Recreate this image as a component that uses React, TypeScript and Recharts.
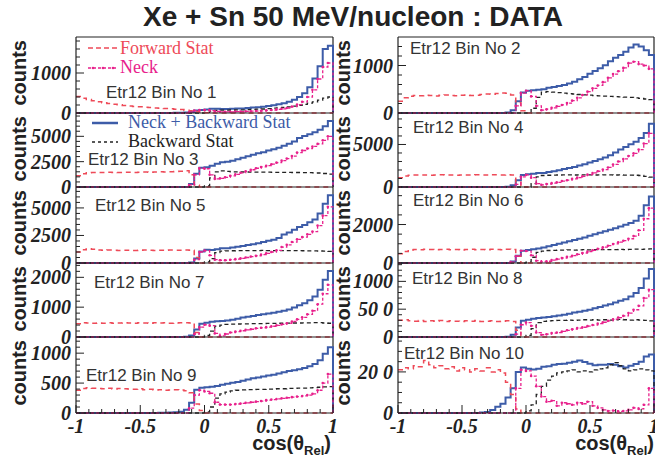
import React from 'react';
import { LineChart, Line, XAxis, YAxis, ReferenceLine } from 'recharts';

// bin low edges (50 bins of 0.04) plus the upper edge at 1
const EDGES = [
  -1, -0.96, -0.92, -0.88, -0.84, -0.8, -0.76, -0.72, -0.68, -0.64,
  -0.6, -0.56, -0.52, -0.48, -0.44, -0.4, -0.36, -0.32, -0.28, -0.24,
  -0.2, -0.16, -0.12, -0.08, -0.04, 0, 0.04, 0.08, 0.12, 0.16,
  0.2, 0.24, 0.28, 0.32, 0.36, 0.4, 0.44, 0.48, 0.52, 0.56,
  0.6, 0.64, 0.68, 0.72, 0.76, 0.8, 0.84, 0.88, 0.92, 0.96, 1,
];
const X_TICKS = [-1, -0.9, -0.8, -0.7, -0.6, -0.5, -0.4, -0.3, -0.2, -0.1, 0, 0.1, 0.2, 0.3, 0.4, 0.5, 0.6, 0.7, 0.8, 0.9, 1];

// ---- Etr12 bin 1
const P1_FWD = [
  410, 370, 335, 305, 280, 258, 238, 220, 205, 190,
  175, 165, 155, 146, 137, 128, 120, 112, 105, 96,
  85, 70, 55, 38, 20, 6, 0, 0, 0, 0,
  0, 0, 0, 0, 0, 0, 0, 0, 0, 0,
  0, 0, 0, 0, 0, 0, 0, 0, 0, 0,
];
const P1_NECK = [
  0, 0, 0, 0, 0, 0, 0, 0, 0, 0,
  0, 0, 0, 0, 0, 0, 0, 0, 0, 0,
  0, 0, 20, 60, 75, 75, 60, 40, 30, 30,
  30, 35, 35, 40, 45, 50, 55, 65, 75, 90,
  105, 125, 160, 210, 280, 400, 580, 850, 1150, 1250,
];
const P1_BACK = [
  0, 0, 0, 0, 0, 0, 0, 0, 0, 0,
  0, 0, 0, 0, 0, 0, 0, 0, 0, 0,
  0, 0, 0, 0, 0, 15, 45, 65, 70, 72,
  75, 78, 80, 85, 90, 95, 100, 110, 120, 130,
  140, 155, 170, 190, 215, 245, 280, 320, 370, 400,
];
const P1_SUM = [
  0, 0, 0, 0, 0, 0, 0, 0, 0, 0,
  0, 0, 0, 0, 0, 0, 0, 2, 3, 4,
  5, 10, 25, 60, 75, 90, 105, 105, 100, 102,
  105, 113, 115, 125, 135, 145, 155, 175, 195, 220,
  245, 280, 330, 400, 495, 645, 860, 1170, 1600, 1680,
];

// ---- Etr12 bin 2
const P2_FWD = [
  250, 320, 355, 370, 365, 375, 370, 360, 375, 380,
  370, 365, 375, 380, 370, 375, 390, 400, 395, 410,
  420, 415, 380, 220, 50, 0, 0, 0, 0, 0,
  0, 0, 0, 0, 0, 0, 0, 0, 0, 0,
  0, 0, 0, 0, 0, 0, 0, 0, 0, 0,
];
const P2_NECK = [
  0, 0, 0, 0, 0, 0, 0, 0, 0, 0,
  0, 0, 0, 0, 0, 0, 0, 0, 0, 0,
  0, 0, 0, 150, 420, 470, 350, 150, 60, 80,
  110, 140, 170, 210, 260, 320, 380, 450, 520, 580,
  650, 740, 820, 880, 950, 1050, 1080, 1030, 1000, 930,
];
const P2_BACK = [
  0, 0, 0, 0, 0, 0, 0, 0, 0, 0,
  0, 0, 0, 0, 0, 0, 0, 0, 0, 0,
  0, 0, 0, 0, 0, 0, 100, 330, 440, 450,
  440, 430, 420, 410, 400, 390, 380, 375, 365, 360,
  355, 350, 345, 340, 335, 330, 320, 310, 295, 280,
];
const P2_SUM = [
  0, 0, 0, 0, 0, 0, 0, 0, 0, 0,
  0, 0, 0, 0, 0, 0, 0, 0, 0, 0,
  0, 10, 60, 250, 430, 470, 480, 490, 500, 530,
  550, 570, 590, 620, 660, 710, 760, 825, 885, 940,
  1005, 1090, 1165, 1220, 1290, 1380, 1440, 1400, 1320, 1220,
];

// ---- Etr12 bin 3
const P3_FWD = [
  1100, 1300, 1400, 1420, 1440, 1430, 1450, 1440, 1430, 1450,
  1460, 1440, 1450, 1470, 1460, 1480, 1500, 1490, 1510, 1530,
  1550, 1600, 1200, 200, 0, 0, 0, 0, 0, 0,
  0, 0, 0, 0, 0, 0, 0, 0, 0, 0,
  0, 0, 0, 0, 0, 0, 0, 0, 0, 0,
];
const P3_NECK = [
  0, 0, 0, 0, 0, 0, 0, 0, 0, 0,
  0, 0, 0, 0, 0, 0, 0, 0, 0, 0,
  0, 0, 200, 1200, 1850, 1800, 1200, 800, 850, 950,
  1100, 1250, 1400, 1550, 1700, 1850, 1980, 2100, 2250, 2400,
  2600, 2800, 3050, 3400, 3600, 3800, 4000, 4250, 4600, 5000,
];
const P3_BACK = [
  0, 0, 0, 0, 0, 0, 0, 0, 0, 0,
  0, 0, 0, 0, 0, 0, 0, 0, 0, 0,
  0, 0, 0, 0, 0, 100, 900, 1500, 1600, 1550,
  1500, 1490, 1480, 1480, 1470, 1470, 1460, 1460, 1450, 1450,
  1440, 1440, 1430, 1430, 1420, 1410, 1400, 1380, 1330, 1270,
];
const P3_SUM = [
  0, 0, 0, 0, 0, 0, 0, 0, 0, 0,
  0, 0, 0, 0, 0, 0, 0, 0, 0, 0,
  0, 10, 300, 1300, 1900, 1950, 2100, 2300, 2450, 2500,
  2600, 2740, 2880, 3030, 3170, 3320, 3440, 3600, 3720, 3870,
  4060, 4260, 4500, 4830, 5020, 5210, 5400, 5650, 6000, 6500,
];

// ---- Etr12 bin 4
const P4_FWD = [
  1100, 1300, 1380, 1400, 1420, 1400, 1390, 1410, 1430, 1400,
  1410, 1390, 1420, 1400, 1410, 1430, 1420, 1400, 1440, 1430,
  1420, 1450, 1400, 600, 0, 0, 0, 0, 0, 0,
  0, 0, 0, 0, 0, 0, 0, 0, 0, 0,
  0, 0, 0, 0, 0, 0, 0, 0, 0, 0,
];
const P4_NECK = [
  0, 0, 0, 0, 0, 0, 0, 0, 0, 0,
  0, 0, 0, 0, 0, 0, 0, 0, 0, 0,
  0, 0, 0, 300, 1200, 1420, 1100, 400, 250, 350,
  450, 550, 700, 800, 950, 1100, 1250, 1450, 1650, 1850,
  2050, 2300, 2650, 3000, 3300, 3650, 3950, 4400, 5100, 6300,
];
const P4_BACK = [
  0, 0, 0, 0, 0, 0, 0, 0, 0, 0,
  0, 0, 0, 0, 0, 0, 0, 0, 0, 0,
  0, 0, 0, 0, 0, 0, 400, 1200, 1350, 1380,
  1400, 1410, 1420, 1420, 1410, 1420, 1430, 1420, 1410, 1420,
  1430, 1420, 1410, 1420, 1400, 1390, 1380, 1350, 1250, 1150,
];
const P4_SUM = [
  0, 0, 0, 0, 0, 0, 0, 0, 0, 0,
  0, 0, 0, 0, 0, 0, 0, 0, 0, 0,
  0, 20, 200, 800, 1400, 1500, 1550, 1650, 1650, 1750,
  1850, 1960, 2120, 2220, 2360, 2520, 2680, 2870, 3060, 3270,
  3480, 3720, 4060, 4420, 4700, 5040, 5330, 5750, 6350, 7450,
];

// ---- Etr12 bin 5
const P5_FWD = [
  1000, 1200, 1300, 1250, 1180, 1150, 1170, 1160, 1140, 1150,
  1160, 1140, 1150, 1170, 1150, 1140, 1160, 1150, 1170, 1160,
  1150, 1170, 1150, 500, 0, 0, 0, 0, 0, 0,
  0, 0, 0, 0, 0, 0, 0, 0, 0, 0,
  0, 0, 0, 0, 0, 0, 0, 0, 0, 0,
];
const P5_NECK = [
  0, 0, 0, 0, 0, 0, 0, 0, 0, 0,
  0, 0, 0, 0, 0, 0, 0, 0, 0, 0,
  0, 0, 0, 300, 1000, 1120, 700, 300, 250, 250,
  300, 350, 420, 500, 580, 660, 760, 880, 1000, 1150,
  1450, 1650, 1900, 2150, 2350, 2600, 2850, 3400, 4300, 5100,
];
const P5_BACK = [
  0, 0, 0, 0, 0, 0, 0, 0, 0, 0,
  0, 0, 0, 0, 0, 0, 0, 0, 0, 0,
  0, 0, 0, 0, 0, 100, 400, 950, 1080, 1100,
  1110, 1120, 1120, 1130, 1120, 1130, 1140, 1130, 1120, 1130,
  1130, 1120, 1130, 1120, 1110, 1100, 1100, 1090, 1080, 1050,
];
const P5_SUM = [
  0, 0, 0, 0, 0, 0, 0, 0, 0, 0,
  0, 0, 0, 0, 0, 0, 0, 0, 0, 0,
  0, 10, 50, 400, 1050, 1200, 1180, 1250, 1330, 1350,
  1410, 1470, 1540, 1630, 1700, 1790, 1900, 2010, 2120, 2280,
  2580, 2770, 3030, 3270, 3460, 3700, 3950, 4490, 5380, 6150,
];

// ---- Etr12 bin 6
const P6_FWD = [
  480, 600, 680, 700, 690, 710, 700, 690, 700, 710,
  690, 700, 680, 700, 710, 690, 700, 690, 710, 700,
  690, 720, 700, 350, 0, 0, 0, 0, 0, 0,
  0, 0, 0, 0, 0, 0, 0, 0, 0, 0,
  0, 0, 0, 0, 0, 0, 0, 0, 0, 0,
];
const P6_NECK = [
  0, 0, 0, 0, 0, 0, 0, 0, 0, 0,
  0, 0, 0, 0, 0, 0, 0, 0, 0, 0,
  0, 0, 50, 350, 640, 620, 400, 120, 60, 90,
  150, 200, 260, 320, 380, 450, 520, 590, 660, 740,
  820, 900, 990, 1080, 1160, 1260, 1400, 1700, 2300, 2850,
];
const P6_BACK = [
  0, 0, 0, 0, 0, 0, 0, 0, 0, 0,
  0, 0, 0, 0, 0, 0, 0, 0, 0, 0,
  0, 0, 0, 0, 0, 50, 300, 550, 620, 650,
  660, 670, 670, 680, 670, 680, 690, 680, 690, 700,
  690, 700, 700, 710, 700, 710, 720, 710, 720, 730,
];
const P6_SUM = [
  0, 0, 0, 0, 0, 0, 0, 0, 0, 0,
  0, 0, 0, 0, 0, 0, 0, 0, 0, 0,
  0, 5, 80, 380, 640, 680, 720, 760, 810, 870,
  930, 1000, 1060, 1130, 1190, 1260, 1330, 1410, 1490, 1570,
  1650, 1730, 1810, 1900, 1990, 2080, 2200, 2450, 3000, 3450,
];

// ---- Etr12 bin 7
const P7_FWD = [
  440, 480, 470, 460, 470, 465, 475, 460, 470, 480,
  470, 460, 475, 470, 465, 480, 470, 475, 460, 470,
  475, 480, 470, 150, 0, 0, 0, 0, 0, 0,
  0, 0, 0, 0, 0, 0, 0, 0, 0, 0,
  0, 0, 0, 0, 0, 0, 0, 0, 0, 0,
];
const P7_NECK = [
  0, 0, 0, 0, 0, 0, 0, 0, 0, 0,
  0, 0, 0, 0, 0, 0, 0, 0, 0, 0,
  0, 0, 0, 100, 330, 410, 380, 120, 40, 100,
  150, 180, 210, 240, 260, 290, 310, 330, 360, 390,
  420, 460, 520, 590, 660, 760, 880, 1100, 1450, 1750,
];
const P7_BACK = [
  0, 0, 0, 0, 0, 0, 0, 0, 0, 0,
  0, 0, 0, 0, 0, 0, 0, 0, 0, 0,
  0, 0, 0, 0, 0, 50, 200, 360, 400, 420,
  430, 435, 440, 440, 445, 450, 450, 455, 455, 460,
  460, 465, 470, 470, 475, 475, 480, 480, 470, 460,
];
const P7_SUM = [
  0, 0, 0, 0, 0, 0, 0, 0, 0, 0,
  0, 0, 0, 0, 0, 0, 0, 0, 0, 0,
  0, 10, 50, 250, 440, 480, 510, 530, 540, 550,
  580, 615, 650, 680, 705, 740, 760, 785, 815, 850,
  880, 925, 990, 1060, 1135, 1235, 1360, 1580, 1920, 2210,
];

// ---- Etr12 bin 8
const P8_FWD = [
  300, 310, 290, 285, 295, 280, 290, 285, 295, 280,
  290, 285, 280, 290, 285, 295, 280, 285, 290, 280,
  285, 290, 280, 120, 0, 0, 0, 0, 0, 0,
  0, 0, 0, 0, 0, 0, 0, 0, 0, 0,
  0, 0, 0, 0, 0, 0, 0, 0, 0, 0,
];
const P8_NECK = [
  0, 0, 0, 0, 0, 0, 0, 0, 0, 0,
  0, 0, 0, 0, 0, 0, 0, 0, 0, 0,
  0, 0, 0, 50, 220, 260, 200, 80, 40, 50,
  70, 80, 100, 120, 140, 160, 175, 195, 215, 240,
  265, 290, 320, 350, 380, 430, 490, 560, 700, 850,
];
const P8_BACK = [
  0, 0, 0, 0, 0, 0, 0, 0, 0, 0,
  0, 0, 0, 0, 0, 0, 0, 0, 0, 0,
  0, 0, 0, 0, 0, 30, 150, 260, 280, 290,
  295, 300, 300, 305, 300, 305, 310, 305, 310, 305,
  310, 305, 310, 315, 310, 305, 310, 305, 300, 290,
];
const P8_SUM = [
  0, 0, 0, 0, 0, 0, 0, 0, 0, 0,
  0, 0, 0, 0, 0, 0, 0, 0, 0, 0,
  0, 5, 40, 170, 290, 310, 330, 340, 350, 360,
  375, 385, 400, 420, 440, 455, 470, 490, 515, 540,
  565, 590, 620, 650, 680, 730, 790, 880, 1050, 1220,
];

// ---- Etr12 bin 9
const P9_FWD = [
  380, 410, 420, 415, 410, 405, 415, 400, 410, 405,
  400, 395, 405, 390, 395, 385, 390, 380, 385, 390,
  385, 370, 340, 150, 40, 0, 0, 0, 0, 0,
  0, 0, 0, 0, 0, 0, 0, 0, 0, 0,
  0, 0, 0, 0, 0, 0, 0, 0, 0, 0,
];
const P9_NECK = [
  0, 0, 0, 0, 0, 0, 0, 0, 0, 0,
  0, 0, 0, 0, 0, 0, 0, 0, 0, 0,
  0, 0, 80, 300, 380, 360, 330, 180, 140, 140,
  140, 150, 160, 170, 180, 190, 200, 215, 225, 235,
  245, 255, 265, 275, 285, 300, 320, 380, 500, 650,
];
const P9_BACK = [
  0, 0, 0, 0, 0, 0, 0, 0, 0, 0,
  0, 0, 0, 0, 0, 0, 0, 0, 0, 0,
  0, 0, 0, 0, 0, 20, 100, 250, 320, 350,
  370, 380, 385, 390, 390, 395, 395, 400, 400, 405,
  405, 410, 410, 415, 415, 420, 425, 430, 435, 440,
];
const P9_SUM = [
  0, 0, 0, 0, 0, 0, 0, 0, 0, 0,
  0, 0, 0, 0, 0, 2, 3, 5, 8, 12,
  20, 55, 170, 390, 420, 430, 440, 450, 470, 490,
  505, 520, 540, 560, 580, 595, 610, 625, 640, 660,
  680, 700, 715, 730, 750, 780, 820, 880, 990, 1100,
];

// ---- Etr12 bin 10
const P10_FWD = [
  210, 220, 215, 230, 225, 255, 235, 220, 230, 215,
  225, 205, 220, 210, 200, 215, 205, 220, 200, 210,
  195, 150, 90, 20, 0, 0, 0, 0, 0, 0,
  0, 0, 0, 0, 0, 0, 0, 0, 0, 0,
  0, 0, 0, 0, 0, 0, 0, 0, 0, 0,
];
const P10_NECK = [
  0, 0, 0, 0, 0, 0, 0, 0, 0, 0,
  0, 0, 0, 0, 0, 0, 0, 0, 0, 0,
  0, 0, 0, 120, 210, 205, 180, 130, 80, 55,
  60, 35, 50, 45, 40, 50, 45, 55, 35, 25,
  15, 10, 12, 8, 10, 15, 25, 20, 40, 120,
];
const P10_BACK = [
  0, 0, 0, 0, 0, 0, 0, 0, 0, 0,
  0, 0, 0, 0, 0, 0, 0, 0, 0, 0,
  0, 0, 0, 0, 0, 10, 40, 90, 130, 160,
  180, 195, 200, 205, 210, 200, 205, 200, 210, 215,
  220, 235, 245, 230, 215, 205, 210, 215, 210, 205,
];
const P10_SUM = [
  0, 0, 0, 0, 0, 0, 0, 0, 0, 0,
  0, 0, 0, 0, 0, 0, 2, 5, 15, 30,
  45, 75, 120, 200, 222, 215, 212, 215, 225, 228,
  235, 238, 240, 245, 250, 255, 248, 240, 232, 235,
  235, 238, 235, 228, 222, 230, 238, 250, 275, 285,
];

const PANEL_NAMES = [
  'Etr12 Bin No 1', 'Etr12 Bin No 2', 'Etr12 Bin No 3', 'Etr12 Bin No 4', 'Etr12 Bin No 5',
  'Etr12 Bin No 6', 'Etr12 Bin No 7', 'Etr12 Bin No 8', 'Etr12 Bin No 9', 'Etr12 Bin No 10',
];
const Y_MAX = [1900, 1600, 7300, 8700, 6900, 3950, 2480, 1330, 1270, 370];
const Y_TICKS = [
  [0, 200, 400, 600, 800, 1000, 1200, 1400, 1600, 1800],
  [0, 200, 400, 600, 800, 1000, 1200, 1400],
  [0, 500, 1000, 1500, 2000, 2500, 3000, 3500, 4000, 4500, 5000, 5500, 6000, 6500, 7000],
  [0, 1000, 2000, 3000, 4000, 5000, 6000, 7000, 8000],
  [0, 500, 1000, 1500, 2000, 2500, 3000, 3500, 4000, 4500, 5000, 5500, 6000, 6500],
  [0, 500, 1000, 1500, 2000, 2500, 3000, 3500],
  [0, 200, 400, 600, 800, 1000, 1200, 1400, 1600, 1800, 2000, 2200, 2400],
  [0, 100, 200, 300, 400, 500, 600, 700, 800, 900, 1000, 1100, 1200, 1300],
  [0, 100, 200, 300, 400, 500, 600, 700, 800, 900, 1000, 1100, 1200],
  [0, 50, 100, 150, 200, 250, 300, 350],
];
const Y_MAJOR = [
  [0, 1000], [0, 1000], [0, 2500, 5000], [0, 5000], [0, 2500, 5000],
  [0, 2000], [0, 1000, 2000], [0, 500, 1000], [0, 500, 1000], [0, 200],
];
const Y_LABELS = [
  ['0', '1000'], ['0', '1000'], ['0', '2500', '5000'], ['0', '5000'], ['0', '2500', '5000'],
  ['0', '2000'], ['0', '1000', '2000'], ['0', '50 0', '1000'], ['0', '500', '1000'], ['0', '20 0'],
];
const SERIES = [
  [P1_FWD, P1_NECK, P1_BACK, P1_SUM],
  [P2_FWD, P2_NECK, P2_BACK, P2_SUM],
  [P3_FWD, P3_NECK, P3_BACK, P3_SUM],
  [P4_FWD, P4_NECK, P4_BACK, P4_SUM],
  [P5_FWD, P5_NECK, P5_BACK, P5_SUM],
  [P6_FWD, P6_NECK, P6_BACK, P6_SUM],
  [P7_FWD, P7_NECK, P7_BACK, P7_SUM],
  [P8_FWD, P8_NECK, P8_BACK, P8_SUM],
  [P9_FWD, P9_NECK, P9_BACK, P9_SUM],
  [P10_FWD, P10_NECK, P10_BACK, P10_SUM],
];

// layout
const COL_X = [76, 398];
const PLOT_W = [257, 256];
const ROW_TOP = [37, 113, 187, 263, 337];
const ROW_BOTTOM = [113, 187, 263, 337, 413];
const NAME_POS = [
  [106, 98], [410, 54], [88, 165], [413, 133], [95, 211],
  [413, 206], [94, 288], [412, 284], [86, 381], [404, 359],
];
const LM = 60;
const PAD = 4;

const BLUE = '#3d5ca8';
const PINK = '#e8218c';
const RED = '#ee4a58';
const INK = '#222';
const TICK_FONT = {
  fontFamily: '"Liberation Serif", serif',
  fontWeight: 700,
  fontStyle: 'italic',
  fontSize: 20,
  fill: INK,
};

function buildRows(k: number) {
  const [fwd, neck, back, sum] = SERIES[k];
  return EDGES.map((x, i) => ({
    x,
    fwd: i < fwd.length ? fwd[i] : 0,
    neck: i < neck.length ? neck[i] : 0,
    back: i < back.length ? back[i] : 0,
    sum: i < sum.length ? sum[i] : 0,
  }));
}

function XTick(props: any) {
  const { x, y, payload, showLabel } = props;
  const v = payload.value;
  const major = Math.abs(v * 2 - Math.round(v * 2)) < 1e-6;
  return (
    <g>
      <line x1={x} x2={x} y1={y} y2={y - (major ? 8 : 4)} stroke={INK} strokeWidth={1} />
      {showLabel && major ? (
        <text x={x} y={y + 20} textAnchor="middle" style={TICK_FONT}>{String(v)}</text>
      ) : null}
    </g>
  );
}

function YTick(props: any) {
  const { x, y, payload, majors, labels } = props;
  const idx = majors.indexOf(payload.value);
  const major = idx >= 0;
  return (
    <g>
      <line x1={x} x2={x + (major ? 8 : 4)} y1={y} y2={y} stroke={INK} strokeWidth={1} />
      {major ? (
        <text x={x - 5} y={y + 7} textAnchor="end" style={TICK_FONT}>{labels[idx]}</text>
      ) : null}
    </g>
  );
}

function neckDot(props: any) {
  const { cx, cy, payload, index } = props;
  if (!(payload.neck > 0) || payload.x >= 1) return <g key={`nd${index}`} />;
  return <circle key={`nd${index}`} cx={cx} cy={cy} r={1.3} fill={PINK} />;
}

function Panel({ k }: { k: number }) {
  const row = Math.floor(k / 2);
  const col = k % 2;
  const bottom = row === 4;
  const plotH = ROW_BOTTOM[row] - ROW_TOP[row];
  const xAxisH = bottom ? 30 : 0;
  const w = LM + PLOT_W[col] + PAD;
  const h = PAD + plotH + xAxisH + PAD;
  const rows = buildRows(k);
  return (
    <div style={{ position: 'absolute', left: COL_X[col] - LM, top: ROW_TOP[row] - PAD }}>
      <LineChart width={w} height={h} data={rows} margin={{ top: PAD, right: PAD, bottom: PAD, left: 0 }}>
        <XAxis
          dataKey="x"
          type="number"
          domain={[-1, 1]}
          ticks={X_TICKS}
          interval={0}
          height={xAxisH}
          tickLine={false}
          tickSize={0}
          tickMargin={0}
          axisLine={{ stroke: INK, strokeWidth: 1.2 }}
          tick={(p: any) => <XTick {...p} showLabel={bottom} />}
        />
        <YAxis
          type="number"
          domain={[0, Y_MAX[k]]}
          ticks={Y_TICKS[k]}
          interval={0}
          width={LM}
          tickLine={false}
          tickSize={0}
          tickMargin={0}
          axisLine={{ stroke: INK, strokeWidth: 1.2 }}
          tick={(p: any) => <YTick {...p} majors={Y_MAJOR[k]} labels={Y_LABELS[k]} />}
        />
        <ReferenceLine y={Y_MAX[k]} stroke={INK} strokeWidth={1.2} />
        <ReferenceLine x={1} stroke={INK} strokeWidth={1.2} />
        <Line dataKey="sum" type="stepAfter" stroke={BLUE} strokeWidth={2} dot={false} isAnimationActive={false} />
        <Line dataKey="back" type="stepAfter" stroke={INK} strokeWidth={1.3} strokeDasharray="4 3" dot={false} isAnimationActive={false} />
        <Line dataKey="fwd" type="stepAfter" stroke={RED} strokeWidth={1.5} strokeDasharray="5 4" dot={false} isAnimationActive={false} />
        <Line dataKey="neck" type="stepAfter" stroke={PINK} strokeWidth={1.3} strokeDasharray="3 2" dot={neckDot} isAnimationActive={false} />
      </LineChart>
    </div>
  );
}

export default function App() {
  const serif = '"Liberation Serif", serif';
  const sans = '"Liberation Sans", Arial, sans-serif';
  return (
    <div style={{ position: 'absolute', left: 0, top: 0, width: 655, height: 461, background: '#fff', overflow: 'hidden' }}>
      <style>{'.recharts-surface, .recharts-wrapper { overflow: visible !important; }'}</style>
      {PANEL_NAMES.map((_, k) => (
        <Panel key={k} k={k} />
      ))}
      <svg width={655} height={461} style={{ position: 'absolute', left: 0, top: 0, pointerEvents: 'none' }}>
        <text x={353} y={26} textAnchor="middle" fontFamily={sans} fontWeight={700} fontSize={28} fill={INK}>
          Xe + Sn 50 MeV/nucleon : DATA
        </text>
        {PANEL_NAMES.map((name, k) => {
          const row = Math.floor(k / 2);
          const col = k % 2;
          const bx = col === 0 ? 26 : 350;
          return (
            <g key={name}>
              <text
                transform={`translate(${bx},${ROW_TOP[row] + 3}) rotate(-90)`}
                textAnchor="end"
                fontFamily={sans}
                fontWeight={700}
                fontSize={20}
                fill={INK}
              >
                counts
              </text>
              <text x={NAME_POS[k][0]} y={NAME_POS[k][1]} fontFamily={sans} fontSize={17} fill="#333">
                {name}
              </text>
            </g>
          );
        })}
        {/* legend, panel 1 */}
        <line x1={88} x2={117} y1={48} y2={48} stroke={RED} strokeWidth={1.5} strokeDasharray="5 3" />
        <text x={120} y={54} fontFamily={serif} fontSize={18} fill={RED}>Forward Stat</text>
        <line x1={88} x2={117} y1={68} y2={68} stroke={PINK} strokeWidth={1.3} strokeDasharray="3 2" />
        <circle cx={93} cy={68} r={1.3} fill={PINK} />
        <circle cx={103} cy={68} r={1.3} fill={PINK} />
        <circle cx={113} cy={68} r={1.3} fill={PINK} />
        <text x={120} y={73} fontFamily={serif} fontSize={18} fill={PINK}>Neck</text>
        {/* legend, panel 3 */}
        <line x1={92} x2={118} y1={123} y2={123} stroke={BLUE} strokeWidth={2.5} />
        <text x={128} y={128} fontFamily={serif} fontSize={18} fill={BLUE}>Neck + Backward Stat</text>
        <line x1={92} x2={118} y1={142} y2={142} stroke={INK} strokeWidth={1.3} strokeDasharray="3 3" />
        <text x={128} y={147} fontFamily={serif} fontSize={18} fill={INK}>Backward Stat</text>
        {/* x titles */}
        <text x={331} y={450} textAnchor="end" fontFamily={sans} fontWeight={700} fontSize={20} fill={INK}>
          cos(θ<tspan fontSize={13} dy={5}>Rel</tspan><tspan dy={-5}>)</tspan>
        </text>
        <text x={654} y={450} textAnchor="end" fontFamily={sans} fontWeight={700} fontSize={20} fill={INK}>
          cos(θ<tspan fontSize={13} dy={5}>Rel</tspan><tspan dy={-5}>)</tspan>
        </text>
      </svg>
    </div>
  );
}
